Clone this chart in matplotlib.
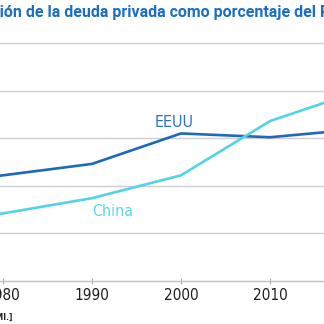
import matplotlib
matplotlib.use("Agg")
import matplotlib.pyplot as plt
from matplotlib.ticker import FixedLocator

years_us = [1970, 1980, 1990, 2000, 2010, 2017]
eeuu = [100, 111, 123, 155, 151, 157]
years_cn = [1970, 1980, 1990, 2000, 2010, 2017]
china = [60, 71, 87, 111, 168, 190]
xticks = [1980, 1990, 2000, 2010, 2020]
yticks = [0, 50, 100, 150, 200, 250]
title = "Evolución de la deuda privada como porcentaje del PIB"
source = "[Fuente: FMI.]"

W = H = 324
fig = plt.figure(figsize=(3.24, 3.24), dpi=100)

px_per_year = 8.9
x0_year = 1975
x1_year = 2025
left_px = 3 - (1980 - x0_year) * px_per_year
width_px = (x1_year - x0_year) * px_per_year
bottom_px = 324 - 281
ymax = 262
height_px = ymax * 0.952
ax = fig.add_axes([left_px / W, bottom_px / H, width_px / W, height_px / H])
ax.set_xlim(x0_year, x1_year)
ax.set_ylim(0, ymax)

cond = dict(family="DejaVu Sans", stretch="condensed")

ax.plot(years_us, eeuu, color="#1e68bd", lw=1.9, solid_joinstyle="round", zorder=3)
ax.plot(years_cn, china, color="#52d3e6", lw=1.9, solid_joinstyle="round", zorder=3)

ax.set_yticks(yticks[1:])
ax.yaxis.grid(True, color="#cfcfcf", lw=1.0)
ax.set_axisbelow(True)
ax.tick_params(axis="y", length=0, labelleft=False)
ax.xaxis.set_major_locator(FixedLocator(xticks))
ax.set_xticklabels([str(x) for x in xticks], fontsize=11, color="#1e1e1e", **cond)
ax.tick_params(axis="x", direction="inout", length=4, width=0.8, color="#b0b0b0", pad=3)
for s in ["top", "right", "left"]:
    ax.spines[s].set_visible(False)
ax.spines["bottom"].set_color("#c0c0c0")
ax.spines["bottom"].set_linewidth(1.0)

ax.text(1999.2, 167, "EEUU", color="#2a72c6", fontsize=11.5, ha="center", va="center", **cond)
ax.text(1992.3, 73, "China", color="#5ad5e8", fontsize=11.5, ha="center", va="center", **cond)

fig.canvas.draw()
r = fig.canvas.get_renderer()
tkw = dict(fontsize=11.5, fontweight="bold", family="Roboto")
tprobe = fig.text(0, 0, "Evoluc", **tkw)
wpre = tprobe.get_window_extent(r).width
tprobe.remove()
fig.text(-wpre / W, 1 - 12 / H, title, color="#1b6ec2", ha="left", va="center", **tkw)

skw = dict(fontsize=6, fontweight="bold", **cond)
sprobe = fig.text(0, 0, source, **skw)
sw = sprobe.get_window_extent(r).width
sprobe.remove()
fig.text((12 - sw) / W, 1 - 317 / H, source, color="#222222", ha="left", va="center", **skw)

fig.savefig("out.png", dpi=100)
